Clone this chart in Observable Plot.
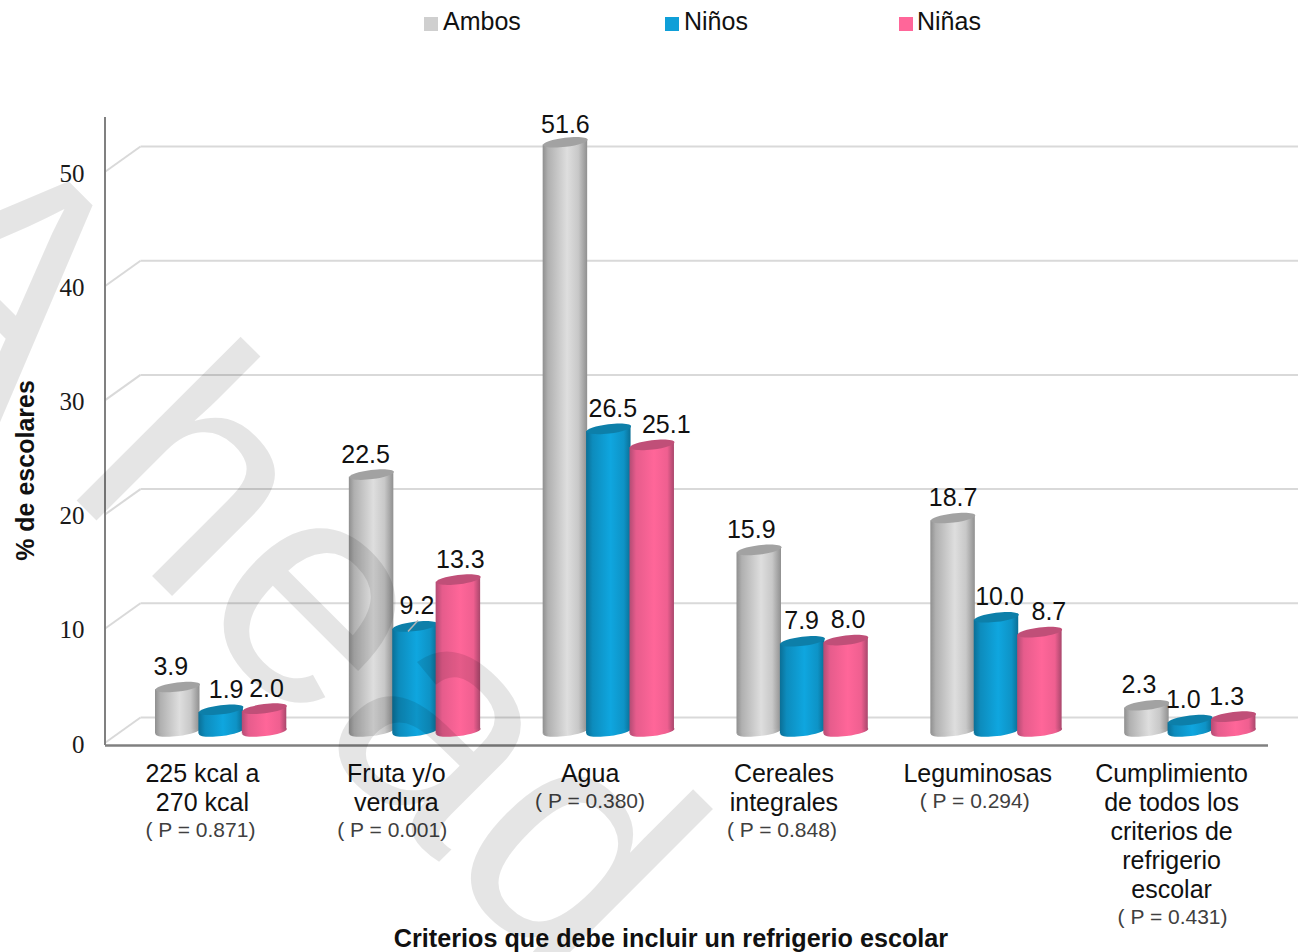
<!DOCTYPE html>
<html><head><meta charset="utf-8">
<script src="https://cdn.jsdelivr.net/npm/d3@7"></script>
<script src="https://cdn.jsdelivr.net/npm/@observablehq/plot@0.6"></script>
<style>
html,body{margin:0;padding:0;background:#fff}
#wrap{position:relative;width:1298px;height:952px;overflow:hidden}
#wrap svg{display:block;position:absolute;left:0;top:0}
.lg{position:absolute;top:6px;font:25px "Liberation Sans",sans-serif;color:#111;line-height:30px;z-index:2}
.sw{position:absolute;top:17px;width:14px;height:14px;z-index:2}
</style></head><body><div id="wrap"></div>
<script>
const categories = ["225 kcal a\n270 kcal","Fruta y/o\nverdura","Agua","Cereales\nintegrales","Leguminosas","Cumplimiento\nde todos los\ncriterios de\nrefrigerio\nescolar"];
const pLabels = ["( P = 0.871)","( P = 0.001)","( P = 0.380)","( P = 0.848)","( P = 0.294)","( P = 0.431)"];
const ambos = [3.9,22.5,51.6,15.9,18.7,2.3];
const ninos = [1.9,9.2,26.5,7.9,10.0,1.0];
const ninas = [2.0,13.3,25.1,8.0,8.7,1.3];
const seriesNames = ["Ambos","Niños","Niñas"];
const yTicks = [0,10,20,30,40,50];
const watermark = "A head";
// label nudges (px) that the original chart applied to avoid collisions
const labelNudge = [[-7,5,2],[-6,2,2],[0,4,14],[-8,-1,2],[0,3,9],[-8,-7,-7]];

const W=1298,H=952,ML=105,MR=30,MT=117,MB=210;
const unit=(W-ML-MR)/6, pyu=(H-MB-MT)/54.73;
const barLeft=50/unit, barW=44.5/unit, step=43.4/unit;
const lefts=(c,s)=>c+barLeft+s*step;
const colors=["#cfcfcf","#0f9fd8","#ff6699"];
const tops=["#a2a2a2","#0d7fa9","#c04f78"];
const values=[ambos,ninos,ninas];
const rows=seriesNames.flatMap((s,si)=>categories.map((c,ci)=>({s,si,ci,c,v:values[si][ci],l:lefts(ci,si),r:lefts(ci,si)+barW,m:lefts(ci,si)+barW/2,n:labelNudge[ci][si]})));

const TILT=7;
// tilted ellipse used for the cylinder caps
const cap={draw(ctx){
  const rx=22.4,ry=4.6,a=-TILT*Math.PI/180,k=0.5523,ca=Math.cos(a),sa=Math.sin(a);
  const P=(x,y)=>[x*ca-y*sa,x*sa+y*ca];
  const C=(a1,a2,a3)=>ctx.bezierCurveTo(...P(...a1),...P(...a2),...P(...a3));
  ctx.moveTo(...P(rx,0));
  C([rx,k*ry],[k*rx,ry],[0,ry]);
  C([-k*rx,ry],[-rx,k*ry],[-rx,0]);
  C([-rx,-k*ry],[-k*rx,-ry],[0,-ry]);
  C([k*rx,-ry],[rx,-k*ry],[rx,0]);
  ctx.closePath();
}};
const BASE=-11;
const barMarks=seriesNames.flatMap((s,si)=>{
  const d=rows.filter(r=>r.si===si), g=`url(#cyl${si})`;
  return [
    Plot.dot(d,{x:"m",y:()=>0,r:5,symbol:cap,fill:g,stroke:"none",dy:BASE}),
    Plot.rect(d,{x1:"l",x2:"r",y1:()=>0,y2:"v",fill:g,dy:BASE}),
    Plot.dot(d,{x:"m",y:"v",r:5,symbol:cap,fill:tops[si],stroke:"none",dy:BASE})
  ];
});
const leader=rows.filter(r=>r.v===9.2);
const chart=Plot.plot({
  width:W,height:H,marginLeft:ML,marginRight:MR,marginTop:MT,marginBottom:MB,
  style:{background:"#fff",overflow:"hidden"},
  x:{domain:[0,6],axis:null},
  y:{domain:[0,54.73],axis:null},
  marks:[
    Plot.link(yTicks,{x1:()=>0,x2:()=>35/unit,y1:d=>d,y2:d=>d+25/pyu,stroke:"#d9d9d9",strokeWidth:2}),
    Plot.link(yTicks,{x1:()=>35/unit,x2:()=>6+30/unit,y1:d=>d+25/pyu,y2:d=>d+25/pyu,stroke:"#d9d9d9",strokeWidth:2}),
    Plot.axisY(yTicks,{anchor:"left",tickSize:0,tickPadding:21,label:null,fontFamily:"Liberation Serif",fontSize:25,fill:"#1a1a1a",tickFormat:d=>d,dy:2}),
    Plot.ruleX([0],{y1:()=>-0.26,y2:()=>54.73,stroke:"#808080",strokeWidth:2,dx:-0.5}),
    Plot.ruleY([0],{x1:()=>0,x2:()=>6,dy:3,stroke:"#808080",strokeWidth:2.5}),
    ...barMarks,
    Plot.link(leader,{x1:d=>d.m-7/unit,x2:d=>d.m+3/unit,y1:d=>d.v-5/pyu,y2:d=>d.v+6/pyu,stroke:"#b5b5b5",strokeWidth:1.5,dy:BASE}),
    Plot.text(rows,{x:d=>d.m+d.n/unit,y:d=>d.v-(d.v===51.6?3/pyu:0),text:d=>d.v.toFixed(1),dy:-31,fontFamily:"Liberation Sans",fontSize:25,fill:"#111"}),
    Plot.text(categories,{x:(d,i)=>i+0.5,y:()=>0,text:d=>d,dy:19,lineAnchor:"top",lineHeight:1.16,fontFamily:"Liberation Sans",fontSize:25,fill:"#111"}),
    Plot.text(pLabels,{x:(d,i)=>i+0.5-[2,4,0,2,3,-1][i]/unit,y:()=>0,text:d=>d,dy:65,lineAnchor:"middle",fontFamily:"Liberation Sans",fontSize:21,fill:"#404040"}),
    Plot.text(["% de escolares"],{x:()=>-80/unit,y:()=>(742-470)/pyu,rotate:-90,fontFamily:"Liberation Sans",fontWeight:"bold",fontSize:25,fill:"#111"}),
    Plot.text(["Criterios que debe incluir un refrigerio escolar"],{frameAnchor:"bottom",dx:-16,dy:204,fontFamily:"Liberation Sans",fontWeight:"bold",fontSize:25.2,fill:"#111"}),
    Plot.text([watermark],{frameAnchor:"top-left",textAnchor:"start",lineAnchor:"bottom",rotate:45,fontSize:320,dx:-256.5,dy:155.5,fontFamily:"Liberation Sans",fill:"#000",fillOpacity:0.1})
  ]
});
// horizontal cylinder shading
const defs=d3.select(chart).insert("defs",":first-child");
const shades=[
 [[0,"#8f8f8f"],[.12,"#b0b0b0"],[.55,"#dedede"],[.8,"#c8c8c8"],[1,"#909090"]],
 [[0,"#0b6f96"],[.15,"#0d8cbd"],[.55,"#0fa6df"],[.85,"#0e93c6"],[1,"#0b6f96"]],
 [[0,"#b34c74"],[.15,"#e65c8c"],[.55,"#ff6699"],[.85,"#ef5f90"],[1,"#a9476c"]]];
shades.forEach((st,i)=>{const g=defs.append("linearGradient").attr("id","cyl"+i).attr("x1",0).attr("x2",1).attr("y1",0).attr("y2",0);
  st.forEach(([o,c])=>g.append("stop").attr("offset",o).attr("stop-color",c));});
// skew each body so its ends meet the tilted caps
d3.select(chart).selectAll('g[aria-label="rect"] rect').attr("transform",function(){
  const x=+this.getAttribute("x")+this.getAttribute("width")/2, y=+this.getAttribute("y")+this.getAttribute("height")/2;
  return `translate(${x},${y}) skewY(${-TILT}) translate(${-x},${-y})`;
});
d3.select(chart).selectAll("text").filter(function(){return this.textContent===watermark}).style("word-spacing","15px");
// P labels sit below the last line of each category label
d3.select(chart).selectAll("text").filter(function(){return /^\( P/.test(this.textContent)}).each(function(){
  const i=pLabels.indexOf(this.textContent), n=categories[i].split("\n").length;
  this.setAttribute("y",29*(n-1));
});
const wrap=document.getElementById("wrap");
wrap.append(chart);
const lx=[[424,443],[665,684],[899,917]];
seriesNames.forEach((s,i)=>{
  const sw=document.createElement("div");sw.className="sw";sw.style.left=lx[i][0]+"px";sw.style.background=colors[i];wrap.append(sw);
  const t=document.createElement("div");t.className="lg";t.style.left=lx[i][1]+"px";t.textContent=s;wrap.append(t);
});
</script></body></html>
